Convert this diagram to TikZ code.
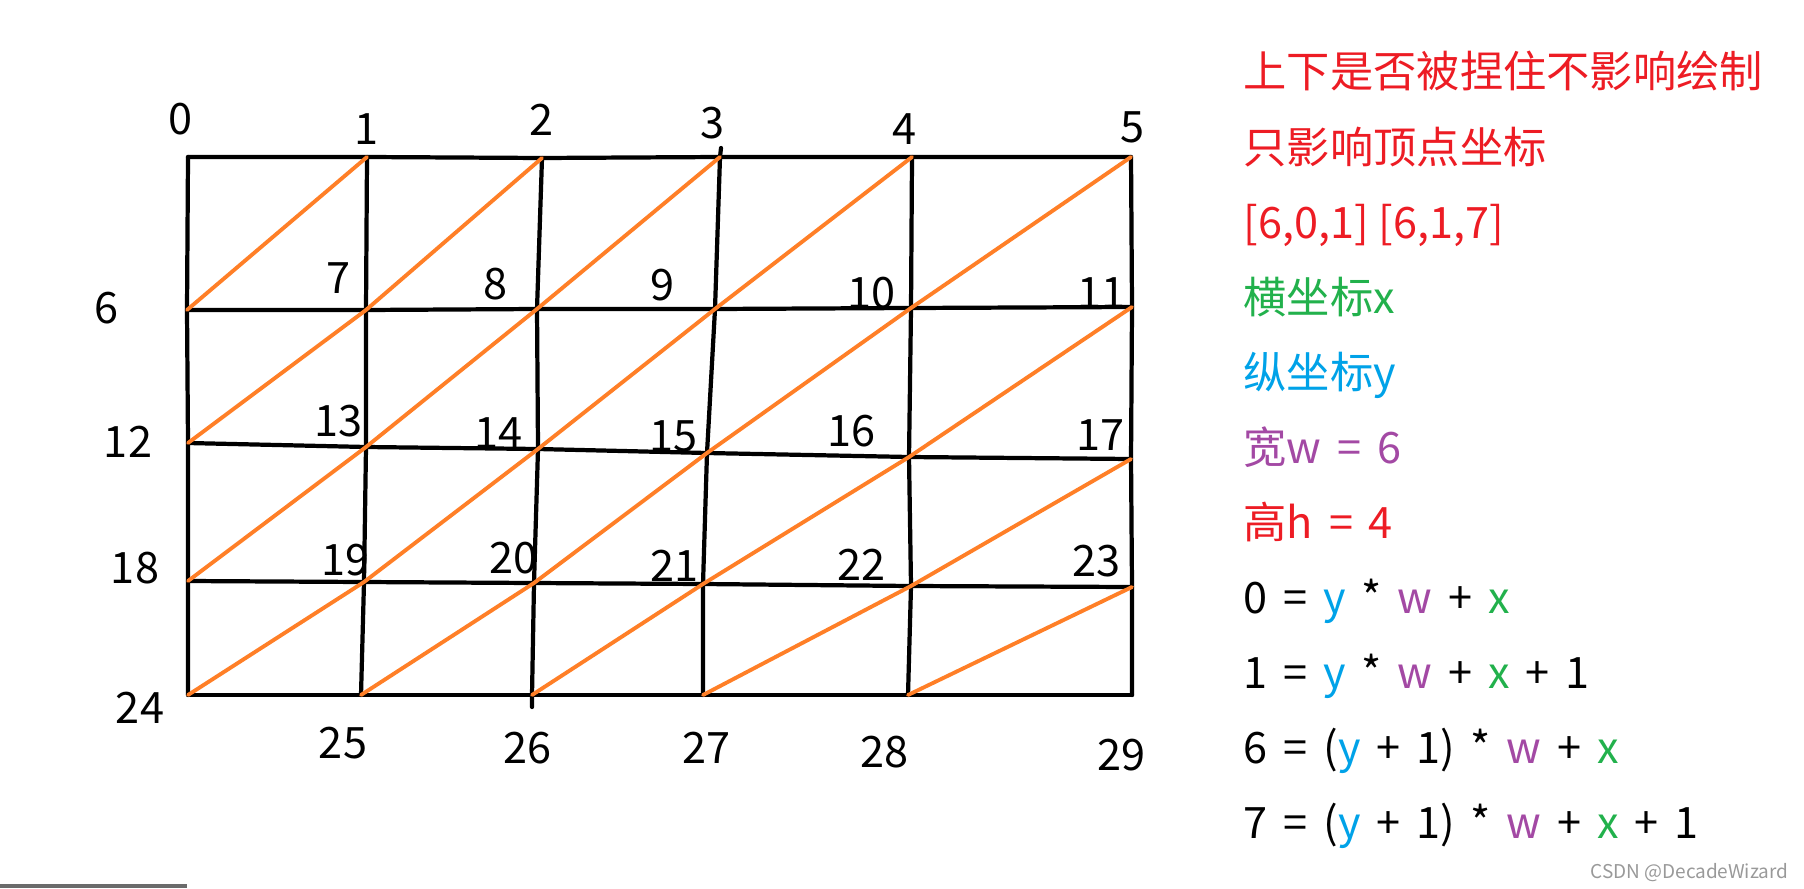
\documentclass[tikz,border=0pt]{standalone}
\usepackage{fontspec}
\newfontfamily\cjk{Noto Sans CJK SC}
\newcommand\widespace{\spaceskip=4.5pt\relax}
\definecolor{pred}{HTML}{ED1C24}
\definecolor{pgreen}{HTML}{22B14C}
\definecolor{pblue}{HTML}{00A2E8}
\definecolor{ppurple}{HTML}{A349A4}
\definecolor{porange}{HTML}{FF7F27}
\tikzset{
	grid line/.style = {black, line width=1.2pt, line cap=round, line join=round},
	diag/.style = {porange, line width=1.1pt, line cap=round},
	num/.style = {inner sep=0pt, font=\cjk\fontsize{12.3}{14}\selectfont},
	note/.style = {anchor=base west, inner sep=0pt, font=\cjk\fontsize{12.3}{14}\selectfont},
	formula/.style = {note, font=\cjk\fontsize{12.3}{14}\selectfont\widespace},
}
\begin{document}
\begin{tikzpicture}[x=0.01cm, y=-0.01cm]
	\useasboundingbox (0,0) rectangle (1804,888);

	\foreach \x/\y [count=\i from 0] in {188/157, 367/157, 542/158, 720/157, 912/157, 1131/157,
		187/310, 366/310, 537/309, 715/309, 911/308, 1132/307,
		188/443, 366/447, 538/449, 707/453, 909/457, 1131/459,
		188/581, 364/582, 534/583, 703/584, 911/586, 1132/587,
		188/695, 361/695, 532/695, 703/695, 908/695, 1132/695}
		\coordinate (v\i) at (\x,\y);
	\coordinate (t3) at (721,148);
	\coordinate (b26) at (532,707);

	\draw[grid line] (v0) -- (v1) -- (v2) -- (v3) -- (v4) -- (v5);
	\draw[grid line] (v6) -- (v7) -- (v8) -- (v9) -- (v10) -- (v11);
	\draw[grid line] (v12) -- (v13) -- (v14) -- (v15) -- (v16) -- (v17);
	\draw[grid line] (v18) -- (v19) -- (v20) -- (v21) -- (v22) -- (v23);
	\draw[grid line] (v24) -- (v25) -- (v26) -- (v27) -- (v28) -- (v29);
	\draw[grid line] (v0) -- (v6) -- (v12) -- (v18) -- (v24);
	\draw[grid line] (v1) -- (v7) -- (v13) -- (v19) -- (v25);
	\draw[grid line] (v2) -- (v8) -- (v14) -- (v20) -- (v26) -- (b26);
	\draw[grid line] (t3) -- (v3) -- (v9) -- (v15) -- (v21) -- (v27);
	\draw[grid line] (v4) -- (v10) -- (v16) -- (v22) -- (v28);
	\draw[grid line] (v5) -- (v11) -- (v17) -- (v23) -- (v29);

	\foreach \r in {0,...,3}
		\foreach \c in {0,...,4} {
			\pgfmathtruncatemacro\a{(\r+1)*6+\c}
			\pgfmathtruncatemacro\b{\r*6+\c+1}
			\draw[diag] (v\a) -- (v\b);
		}

	\foreach \x/\y [count=\i from 0] in {181/119, 366/129, 541/120, 712/123, 904/129, 1132/127,
		107/308, 338/278, 495/284, 662/285, 871/293, 1101/293,
		128/442, 338/421, 498/433, 673/436, 851/431, 1100/435,
		135/568, 345/560, 513/558, 674/566, 861/565, 1096/561,
		140/708, 343/743, 527/748, 706/748, 884/752, 1121/755}
		\node[num] (n\i) at (\x,\y) {\i};

	\node[note, text=pred] (rule) at (1243,88) {上下是否被捏住不影响绘制};
	\node[note, text=pred] (only) at (1243,163) {只影响顶点坐标};
	\node[note, text=pred] (tris) at (1243,238) {[6,0,1] [6,1,7]};
	\node[note, text=pgreen] (xname) at (1243,313) {横坐标x};
	\node[note, text=pblue] (yname) at (1243,388) {纵坐标y};
	\node[formula, text=ppurple] (wname) at (1243,463) {宽w = 6};
	\node[formula, text=pred] (hname) at (1243,538) {高h = 4};
	\node[formula] (eq0) at (1243,613) {0 = \textcolor{pblue}{y} * \textcolor{ppurple}{w} + \textcolor{pgreen}{x}};
	\node[formula] (eq1) at (1243,688) {1 = \textcolor{pblue}{y} * \textcolor{ppurple}{w} + \textcolor{pgreen}{x} + 1};
	\node[formula] (eq6) at (1243,763) {6 = (\textcolor{pblue}{y} + 1) * \textcolor{ppurple}{w} + \textcolor{pgreen}{x}};
	\node[formula] (eq7) at (1243,838) {7 = (\textcolor{pblue}{y} + 1) * \textcolor{ppurple}{w} + \textcolor{pgreen}{x} + 1};

	\node[anchor=base east, inner sep=0pt, text=black!40, font=\cjk\fontsize{5.4}{6}\selectfont] (mark) at (1789,878) {CSDN @DecadeWizard};
	\fill[black!58] (0,884) rectangle (187,888);

\end{tikzpicture}
\end{document}
